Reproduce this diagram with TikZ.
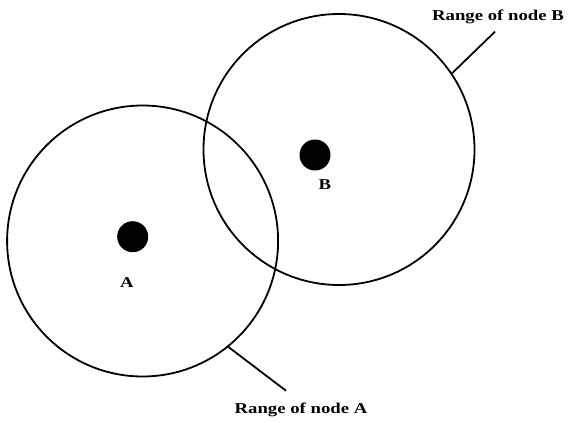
\documentclass[tikz,border=0pt]{standalone}
\usepackage{fontspec}
\setmainfont{Liberation Serif}
\newfontfamily\widefont[FakeStretch=1.25]{Liberation Serif}
\begin{document}
\begin{tikzpicture}[x=1pt,y=-1pt,
  rangecircle/.style={draw=black,line width=1.8pt,circle,minimum size=271pt,inner sep=0pt},
  nodedot/.style={fill=black,circle,minimum size=31pt,inner sep=0pt},
  lbl/.style={font=\widefont\bfseries\fontsize{15}{17}\selectfont,inner sep=0pt},
  leader/.style={line width=1.8pt}]
\useasboundingbox (0,0) rectangle (568,423);
\node[rangecircle] (rA) at (142.6,241) {};
\node[rangecircle] (rB) at (339,149.5) {};
\node[nodedot] (dA) at (132.7,236.7) {};
\node[nodedot] (dB) at (315,155) {};
\node[lbl] (lA) at (127,283) {A};
\node[lbl] (lB) at (325,185) {B};
\node[lbl] (tB) at (498,17) {Range of node B};
\node[lbl] (tA) at (301,410) {Range of node A};
\coordinate (pB) at (rB.34);
\coordinate (qB) at (495,31.7);
\coordinate (pA) at (rA.-51);
\coordinate (qA) at (286,390.7);
\draw[leader] (pB) -- (qB);
\draw[leader] (pA) -- (qA);
\end{tikzpicture}
\end{document}
